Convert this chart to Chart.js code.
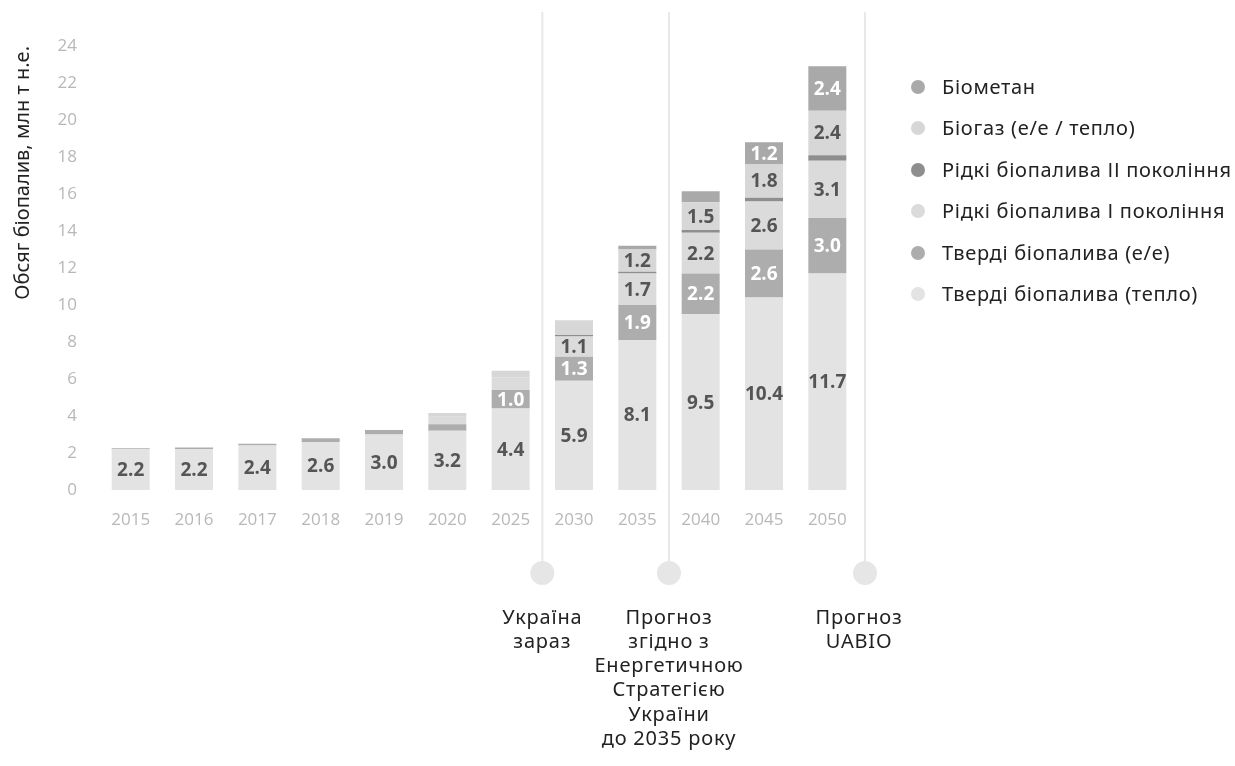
<!DOCTYPE html>
<html>
<head>
<meta charset="utf-8">
<script src="https://cdn.jsdelivr.net/npm/chart.js@4.4.1/dist/chart.umd.min.js"></script>
<style>
  html, body { margin: 0; padding: 0; background: #fff; }
  #wrap { position: relative; width: 1235px; height: 766px; }
  #legend { position: absolute; left: 0; top: 0; font-family: "Noto Sans", sans-serif; font-size: 20px; letter-spacing: 0.7px; color: #222; }
  .item { position: absolute; left: 911px; height: 24px; line-height: 24px; white-space: nowrap; }
  .dot { position: absolute; left: 0; top: 5px; width: 14px; height: 14px; border-radius: 50%; }
  .lbl { position: absolute; left: 31px; top: 0; }
</style>
</head>
<body>
<div id="wrap">
  <canvas id="bioChart" width="1235" height="766"></canvas>
  <div id="legend"></div>
</div>
<script>
const years = ['2015', '2016', '2017', '2018', '2019', '2020', '2025', '2030', '2035', '2040', '2045', '2050'];
const solidHeat = [2.2, 2.2, 2.4, 2.6, 3.0, 3.2, 4.4, 5.9, 8.1, 9.5, 10.4, 11.7];
const solidPower = [0.06, 0.1, 0.1, 0.2, 0.25, 0.36, 1.0, 1.3, 1.9, 2.2, 2.6, 3.0];
const liquidGen1 = [0, 0, 0, 0, 0, 0.4, 0.7, 1.1, 1.7, 2.2, 2.6, 3.1];
const liquidGen2 = [0, 0, 0, 0, 0, 0, 0, 0.08, 0.1, 0.15, 0.2, 0.3];
const biogas = [0, 0, 0, 0, 0, 0.2, 0.35, 0.8, 1.2, 1.5, 1.8, 2.4];
const biomethane = [0, 0, 0, 0, 0, 0, 0, 0, 0.2, 0.6, 1.2, 2.4];
const yTicks = [0, 2, 4, 6, 8, 10, 12, 14, 16, 18, 20, 22, 24];

// periods under the x axis
const markers = [
  { after: '2025', text: ['Україна', 'зараз'] },
  { after: '2035', text: ['Прогноз', 'згідно з', 'Енергетичною', 'Стратегією', 'України', 'до 2035 року'] },
  { after: '2050', text: ['Прогноз', 'UABIO'] }
];

// stack order bottom -> top
const series = [
  { label: 'Тверді біопалива (тепло)', data: solidHeat, color: '#e3e3e3', text: '#555' },
  { label: 'Тверді біопалива (е/е)', data: solidPower, color: '#adadad', text: '#fff' },
  { label: 'Рідкі біопалива І покоління', data: liquidGen1, color: '#dbdbdb', text: '#555' },
  { label: 'Рідкі біопалива ІІ покоління', data: liquidGen2, color: '#8e8e8e', text: '#fff' },
  { label: 'Біогаз (е/е / тепло)', data: biogas, color: '#d7d7d7', text: '#555' },
  { label: 'Біометан', data: biomethane, color: '#a9a9a9', text: '#fff' }
];

Chart.defaults.font.family = '"Open Sans", sans-serif';

const barLabels = {
  id: 'barLabels',
  afterDatasetsDraw(chart) {
    const ctx = chart.ctx;
    ctx.save();
    ctx.font = 'bold 19px "Open Sans"';
    ctx.textAlign = 'center';
    ctx.textBaseline = 'middle';
    chart.data.datasets.forEach((ds, i) => {
      const meta = chart.getDatasetMeta(i);
      meta.data.forEach((bar, j) => {
        const v = ds.data[j];
        if (v < 1) return;
        ctx.fillStyle = series[i].text;
        ctx.fillText(v.toFixed(1), bar.x, (bar.y + bar.base) / 2 + 1);
      });
    });
    ctx.restore();
  }
};

const periodMarks = {
  id: 'periodMarks',
  beforeDatasetsDraw(chart, args, opts) {
    const ctx = chart.ctx;
    const x = chart.scales.x;
    const step = x.getPixelForValue(1) - x.getPixelForValue(0);
    ctx.save();
    markers.forEach(m => {
      const idx = years.indexOf(m.after);
      const last = idx === years.length - 1;
      let lx = x.getPixelForValue(idx) + step / 2;
      if (last) lx += opts.edgeGap;
      ctx.strokeStyle = '#e8e8e8';
      ctx.lineWidth = 2;
      ctx.beginPath();
      ctx.moveTo(lx, opts.lineTop);
      ctx.lineTo(lx, opts.dotY - 11);
      ctx.stroke();
      ctx.fillStyle = '#e6e6e6';
      ctx.beginPath();
      ctx.arc(lx, opts.dotY, 12, 0, Math.PI * 2);
      ctx.fill();
      ctx.fillStyle = '#222';
      ctx.font = '20px "Noto Sans"';
      ctx.letterSpacing = '0.8px';
      ctx.textAlign = 'center';
      ctx.textBaseline = 'middle';
      m.text.forEach((t, k) => ctx.fillText(t, lx - (last ? 6 : 0), opts.textY + k * 24.2));
    });
    ctx.restore();
  }
};

new Chart(document.getElementById('bioChart'), {
  type: 'bar',
  data: {
    labels: years,
    datasets: series.map(s => ({
      label: s.label,
      data: s.data,
      backgroundColor: s.color,
      borderWidth: 0,
      barPercentage: 0.6,
      categoryPercentage: 1
    }))
  },
  options: {
    responsive: false,
    animation: false,
    devicePixelRatio: 1,
    layout: { padding: { left: 0, top: 46, right: 376, bottom: 236 } },
    plugins: {
      legend: { display: false },
      tooltip: { enabled: false },
      periodMarks: { edgeGap: 6, lineTop: 12, dotY: 573, textY: 618 }
    },
    scales: {
      x: {
        stacked: true,
        grid: { display: false },
        border: { display: false },
        ticks: { color: '#b8b8b8', font: { size: 17 }, padding: 12 },
        afterFit: s => { s.height = 40; }
      },
      y: {
        stacked: true,
        min: 0,
        max: 24,
        grid: { display: false },
        border: { display: false },
        afterBuildTicks: s => { s.ticks = yTicks.map(v => ({ value: v })); },
        ticks: { color: '#b8b8b8', font: { size: 17 }, padding: 14 },
        title: {
          display: true,
          text: 'Обсяг біопалив, млн т н.е.',
          align: 'end',
          color: '#222',
          font: { size: 20, family: '"Noto Sans"' },
          padding: { top: 11, bottom: 0 }
        },
        afterFit: s => { s.width = 99; }
      }
    }
  },
  plugins: [barLabels, periodMarks]
});

// legend, top item = top of stack
const legend = document.getElementById('legend');
series.slice().reverse().forEach((s, i) => {
  const row = document.createElement('div');
  row.className = 'item';
  row.style.top = (75 + i * 41.4) + 'px';
  row.innerHTML = '<span class="dot" style="background:' + s.color + '"></span><span class="lbl">' + s.label + '</span>';
  legend.appendChild(row);
});
</script>
</body>
</html>
